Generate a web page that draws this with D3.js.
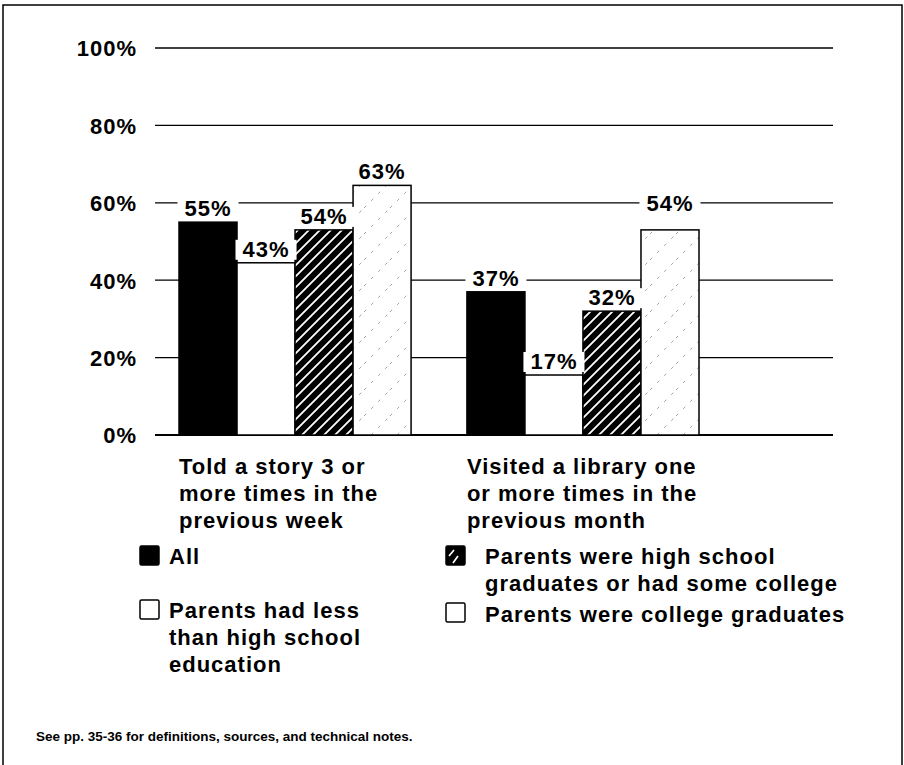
<!DOCTYPE html>
<html><head><meta charset="utf-8">
<script src="https://cdn.jsdelivr.net/npm/d3@7"></script>
<style>
body{margin:0;background:#fff;}
text{font-family:"Liberation Sans",Arial,sans-serif;font-weight:bold;fill:#000;}
</style></head>
<body>
<svg id="chart" width="904" height="765"></svg>
<script>
// ---- data ----
const categories = [
  ["Told a story 3 or","more times in the","previous week"],
  ["Visited a library one","or more times in the","previous month"]
];
const seriesNames = ["All","Parents had less than high school education","Parents were high school graduates or had some college","Parents were college graduates"];
// bar heights as drawn (percent)
const allValues      = [55, 37];
const lessHSValues   = [44.5, 15.5];
const hsValues       = [53, 32];
const collegeValues  = [64.5, 53];
// printed labels
const allLabels     = ["55%","37%"];
const lessHSLabels  = ["43%","17%"];
const hsLabels      = ["54%","32%"];
const collegeLabels = ["63%","54%"];
const yTicks = [0,20,40,60,80,100];
const legendLines = [
  ["All"],
  ["Parents had less","than high school","education"],
  ["Parents were high school","graduates or had some college"],
  ["Parents were college graduates"]
];
const footnote = "See pp. 35-36 for definitions, sources, and technical notes.";

const svg = d3.select("#chart");
const defs = svg.append("defs");
// hatch pattern: black with white diagonals
const ph = defs.append("pattern").attr("id","hatch").attr("patternUnits","userSpaceOnUse")
  .attr("width",11).attr("height",11);
ph.append("rect").attr("width",11).attr("height",11).attr("fill","#000");
ph.append("path").attr("d","M-1,12 L12,-1 M-3,3 L3,-3 M8,14 L14,8").attr("stroke","#fff").attr("stroke-width",1.8);
// college pattern: white with faint dashed diagonals
const pc = defs.append("pattern").attr("id","dots").attr("patternUnits","userSpaceOnUse")
  .attr("width",26).attr("height",26);
pc.append("rect").attr("width",26).attr("height",26).attr("fill","#fff");
pc.append("path").attr("d","M0,26 L26,0").attr("stroke","#999").attr("stroke-width",0.9).attr("stroke-dasharray","3,7");

const fills = ["#000","#fff","url(#hatch)","url(#dots)"];

// frame
svg.append("path").attr("d","M3,770 L3,5 L902,5 L902,770").attr("fill","none").attr("stroke","#000").attr("stroke-width",1.5);

const y = d3.scaleLinear().domain([0,100]).range([435,48]);
const x0 = d3.scaleBand().domain(d3.range(categories.length)).range([179,699]).paddingInner(0.194).paddingOuter(0);
const x1 = d3.scaleBand().domain(d3.range(4)).range([0,x0.bandwidth()]).padding(0);

// axis labels and gridlines
const yAxis = d3.axisLeft(y).tickValues(yTicks).tickFormat(d=>d+"%").tickSize(0).tickPadding(0);
const ga = svg.append("g").attr("transform","translate(137,0)").call(yAxis);
ga.select(".domain").remove();
ga.selectAll("text").style("font-size","22px").style("letter-spacing","1px").attr("dy","0.36em").attr("font-family",null);
svg.append("g").selectAll("line").data(yTicks).join("line")
  .attr("x1",155).attr("x2",833).attr("y1",d=>y(d)).attr("y2",d=>y(d))
  .attr("stroke","#000").attr("stroke-width",d=>d===0?2:1.3);

const seriesValues = [allValues, lessHSValues, hsValues, collegeValues];
const seriesLabels = [allLabels, lessHSLabels, hsLabels, collegeLabels];
const bars = [];
categories.forEach((c,ci)=>{
  seriesValues.forEach((vals,si)=>{
    bars.push({ci, si, v: vals[ci], label: seriesLabels[si][ci]});
  });
});

const gb = svg.append("g");
gb.selectAll("rect").data(bars).join("rect")
  .attr("x",d=>x0(d.ci)+x1(d.si))
  .attr("y",d=>y(d.v))
  .attr("width",x1.bandwidth())
  .attr("height",d=>y(0)-y(d.v))
  .attr("fill",d=>fills[d.si])
  .attr("stroke","#000").attr("stroke-width",1.5);

// value labels with white knockout
const labelG = svg.append("g");
bars.forEach(d=>{
  const cx = x0(d.ci)+x1(d.si)+x1.bandwidth()/2;
  let baseY = y(d.v) - 6;
  if (d.ci===1 && d.si===3) baseY = y(60)+8;
  const t = labelG.append("text").attr("x",cx).attr("y",baseY).attr("text-anchor","middle")
    .style("font-size","22px").style("letter-spacing","1px").text(d.label);
  const bb = t.node().getBBox();
  labelG.insert("rect","text:last-child").attr("x",bb.x-7).attr("y",bb.y+3).attr("width",bb.width+14).attr("height",bb.height-5).attr("fill","#fff");
});

// category labels
categories.forEach((lines,ci)=>{
  const t = svg.append("text").attr("x",x0(ci)).attr("y",474).style("font-size","22px").style("letter-spacing","1px");
  lines.forEach((l,i)=>t.append("tspan").attr("x",x0(ci)).attr("dy",i===0?0:27).text(l));
});

// legend
const legendPos = [
  {sx:140, sy:546, tx:169, ty:564},
  {sx:140, sy:600, tx:169, ty:618},
  {sx:446, sy:546, tx:485, ty:564},
  {sx:446, sy:603, tx:485, ty:622}
];
const lhatch = defs.append("pattern").attr("id","lhatch").attr("patternUnits","userSpaceOnUse")
  .attr("width",19).attr("height",19).attr("x",446).attr("y",546);
lhatch.append("rect").attr("width",19).attr("height",19).attr("fill","#000");
lhatch.append("path").attr("d","M3,10 L8,4 M7,17 L12,10").attr("stroke","#fff").attr("stroke-width",1.7);
const legendFills = ["#000","#fff","url(#lhatch)","#fff"];
legendLines.forEach((lines,i)=>{
  const p = legendPos[i];
  svg.append("rect").attr("x",p.sx).attr("y",p.sy).attr("width",19).attr("height",19)
    .attr("rx",1.5).attr("fill",legendFills[i]).attr("stroke","#000").attr("stroke-width",1.5);
  const t = svg.append("text").attr("x",p.tx).attr("y",p.ty).style("font-size","22px").style("letter-spacing","1px");
  lines.forEach((l,j)=>t.append("tspan").attr("x",p.tx).attr("dy",j===0?0:27).text(l));
});

svg.append("text").attr("x",36).attr("y",741).style("font-size","13.5px").text(footnote);
</script>
</body></html>
